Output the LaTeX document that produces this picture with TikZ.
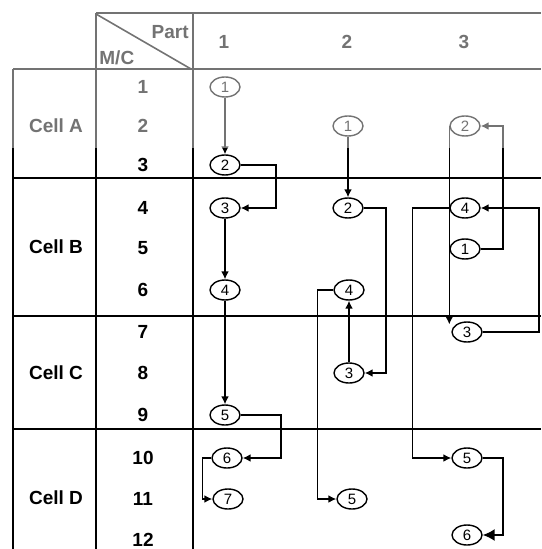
\documentclass[tikz,border=0pt]{standalone}
\usepackage{fontspec}
\setmainfont{Liberation Sans}
\usetikzlibrary{positioning,shapes.geometric,arrows.meta}
\tikzset{
  op/.style={
    shape = ellipse,
    draw,
    line width = 0.7pt,
    minimum width = 15pt,
    minimum height = 10pt,
    inner sep = 0pt,
    font = \fontsize{7.5}{7.5}\selectfont
  },
  grid/.style={
    line width = 1.3pt
  },
  flow/.style={
    line width = 0.8pt,
    -{Latex[length=4pt,width=4pt]}
  },
  bigflow/.style={
    line width = 0.8pt,
    -{Latex[length=6pt,width=6pt]}
  },
  lbl/.style={
    font = \bfseries\fontsize{9.5}{9.5}\selectfont,
    inner sep = 0pt
  },
  fade/.style={
    fill = white,
    fill opacity = 0.45
  }
}

\begin{document}
\begin{tikzpicture}[x=0.5pt,y=-0.5pt]
    \useasboundingbox (0,0) rectangle (541,549);

    % table
    \draw[grid] (96,13) -- (541,13);
    \draw[grid] (13,69) -- (541,69);
    \draw[grid] (13,178) -- (541,178);
    \draw[grid] (13,316) -- (541,316);
    \draw[grid] (13,429) -- (541,429);
    \draw[grid] (13,69) -- (13,549);
    \draw[grid] (96,13) -- (96,549);
    \draw[grid] (193,13) -- (193,549);
    \draw[line width=0.8pt] (96,14) -- (191,69);

    % headers
    \node[lbl, anchor=east] (part) at (189,32) {Part};
    \node[lbl, anchor=west] (mc) at (99,58) {M/C};
    \node[lbl] (h1) at (224,42) {1};
    \node[lbl] (h2) at (347,42) {2};
    \node[lbl] (h3) at (464,42) {3};

    \node[lbl] (cA) at (56,126) {Cell A};
    \node[lbl] (cB) at (56,247) {Cell B};
    \node[lbl] (cC) at (56,373) {Cell C};
    \node[lbl] (cD) at (56,498) {Cell D};

    \foreach \r/\y in {1/87,2/126,3/165,4/208,5/248,6/290,7/332,8/373,9/415,10/458,11/499,12/540}
        \node[lbl] (m\r) at (143,\y) {\r};

    % part 1
    \node[op] (p1o1) at (225,87) {1};
    \node[op] (p1o2) at (225,165) {2};
    \node[op] (p1o3) at (225,208) {3};
    \node[op] (p1o4) at (225,290) {4};
    \node[op] (p1o5) at (225,415) {5};
    \node[op] (p1o6) at (227,458) {6};
    \node[op] (p1o7) at (228,499) {7};

    \draw[flow] (p1o1.south) -- (p1o2.north);
    \draw[flow] (p1o2.east) -- ++(35,0) |- (p1o3.east);
    \draw[flow] (p1o3.south) -- (p1o4.north);
    \draw[flow] (p1o4.south) -- (p1o5.north);
    \draw[flow] (p1o5.east) -- ++(40,0) |- (p1o6.east);
    \draw[flow] (p1o6.west) -- ++(-9,0) |- (p1o7.west);

    % part 2
    \node[op] (p2o1) at (348,126) {1};
    \node[op] (p2o2) at (348,208) {2};
    \node[op] (p2o3) at (349,373) {3};
    \node[op] (p2o4) at (349,290) {4};
    \node[op] (p2o5) at (352,499) {5};

    \draw[flow] (p2o1.south) -- (p2o2.north);
    \draw[flow] (p2o2.east) -- ++(22,0) |- (p2o3.east);
    \draw[flow] (p2o3.north) -- (p2o4.south);
    \draw[flow] (p2o4.west) -- ++(-16,0) |- (p2o5.west);

    % part 3
    \node[op] (p3o1) at (465,249) {1};
    \node[op] (p3o2) at (465,126) {2};
    \node[op] (p3o3) at (467,332) {3};
    \node[op] (p3o4) at (465,208) {4};
    \node[op] (p3o5) at (467,458) {5};
    \node[op] (p3o6) at (467,535) {6};

    \draw[flow] (p3o1.east) -- ++(22,0) |- (p3o2.east);
    \draw[flow] (p3o2.west) -- (p3o2.west |- p3o3.north west);
    \draw[flow] (p3o3.east) -- ++(56,0) |- (p3o4.east);
    \draw[flow] (p3o4.west) -- ++(-37,0) |- (p3o5.west);
    \draw[bigflow] (p3o5.east) -- ++(20,0) |- (p3o6.east);

    % faded top of the scan
    \fill[fade] (0,0) rectangle (541,148);
\end{tikzpicture}
\end{document}
